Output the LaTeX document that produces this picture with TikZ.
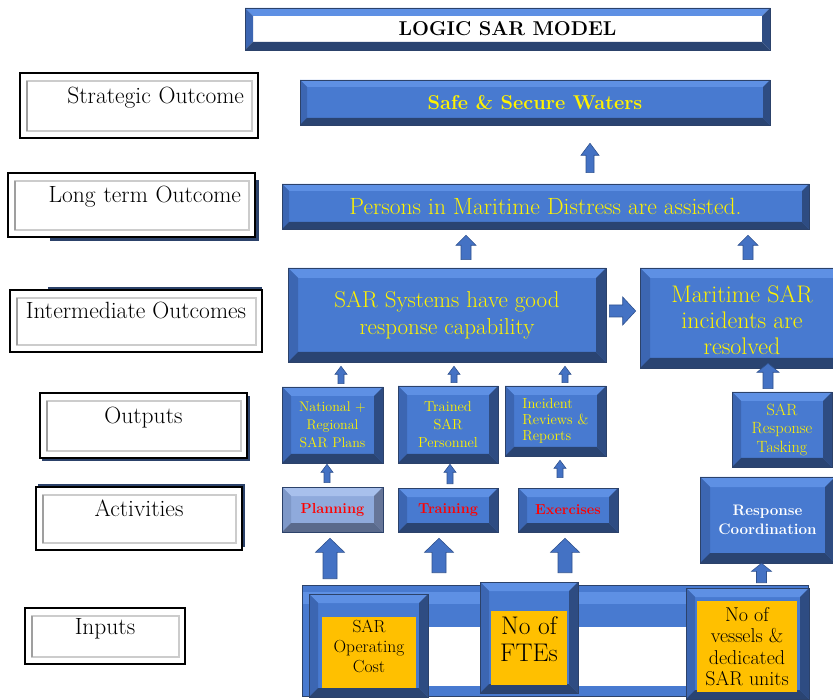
\documentclass[tikz,border=0pt]{standalone}
\usepackage{fontspec}
\usetikzlibrary{calc}

% colours of the bevelled boxes
\definecolor{bvface}{RGB}{72,122,208}
\definecolor{bvtop}{RGB}{94,144,228}
\definecolor{bvleft}{RGB}{60,102,178}
\definecolor{bvright}{RGB}{46,76,130}
\definecolor{bvbot}{RGB}{42,68,114}
\definecolor{bvline}{RGB}{44,66,106}
\definecolor{plface}{RGB}{143,170,220}
\definecolor{pltop}{RGB}{168,192,236}
\definecolor{plleft}{RGB}{126,152,200}
\definecolor{plright}{RGB}{102,117,152}
\definecolor{plbot}{RGB}{90,106,140}
\definecolor{inyellow}{RGB}{255,192,0}
\definecolor{arrfill}{RGB}{68,114,196}
\definecolor{arrline}{RGB}{47,82,143}

% four bevel faces of a box: width, top, left, bottom, right colour
\newcommand{\bevelfaces}[5]{%
  \fill[#2] (path picture bounding box.north west) -- (path picture bounding box.north east)
    -- ([shift={(-#1,-#1)}]path picture bounding box.north east) -- ([shift={(#1,-#1)}]path picture bounding box.north west) -- cycle;
  \fill[#3] (path picture bounding box.north west) -- ([shift={(#1,-#1)}]path picture bounding box.north west)
    -- ([shift={(#1,#1)}]path picture bounding box.south west) -- (path picture bounding box.south west) -- cycle;
  \fill[#4] (path picture bounding box.south west) -- ([shift={(#1,#1)}]path picture bounding box.south west)
    -- ([shift={(-#1,#1)}]path picture bounding box.south east) -- (path picture bounding box.south east) -- cycle;
  \fill[#5] (path picture bounding box.south east) -- ([shift={(-#1,#1)}]path picture bounding box.south east)
    -- ([shift={(-#1,-#1)}]path picture bounding box.north east) -- (path picture bounding box.north east) -- cycle;}
% same, open on the right (box running off the page)
\newcommand{\bevelopen}[1]{%
  \fill[bvtop] (path picture bounding box.north west) -- (path picture bounding box.north east)
    -- ([yshift=-#1]path picture bounding box.north east) -- ([shift={(#1,-#1)}]path picture bounding box.north west) -- cycle;
  \fill[bvleft] (path picture bounding box.north west) -- ([shift={(#1,-#1)}]path picture bounding box.north west)
    -- ([shift={(#1,#1)}]path picture bounding box.south west) -- (path picture bounding box.south west) -- cycle;
  \fill[bvbot] (path picture bounding box.south west) -- ([shift={(#1,#1)}]path picture bounding box.south west)
    -- ([yshift=#1]path picture bounding box.south east) -- (path picture bounding box.south east) -- cycle;}

% block arrows: base, tip, half shaft, half head, head length
\newcommand{\blkup}[5]{%
  \filldraw[blkarrow] let \p1=(#1), \p2=(#2) in
    (\x2-#3,\y1) -- (\x2-#3,\y2-#5) -- (\x2-#4,\y2-#5) -- (\x2,\y2)
    -- (\x2+#4,\y2-#5) -- (\x2+#3,\y2-#5) -- (\x2+#3,\y1) -- cycle;}
\newcommand{\blkright}[5]{%
  \filldraw[blkarrow] let \p1=(#1), \p2=(#2) in
    (\x1,\y2+#3) -- (\x2-#5,\y2+#3) -- (\x2-#5,\y2+#4) -- (\x2,\y2)
    -- (\x2-#5,\y2-#4) -- (\x2-#5,\y2-#3) -- (\x1,\y2-#3) -- cycle;}

\tikzset{
  bevel/.style={rectangle, inner sep=0pt, align=center, fill=bvface, draw=bvline, line width=0.6pt,
    path picture={\bevelfaces{#1}{bvtop}{bvleft}{bvbot}{bvright}}},
  bevelright/.style={rectangle, inner sep=0pt, align=center, fill=bvface, draw=bvline, line width=0.6pt,
    path picture={\bevelopen{#1}}},
  bevelpale/.style={rectangle, inner sep=0pt, align=center, fill=plface, draw=bvline, line width=0.6pt,
    path picture={\bevelfaces{#1}{pltop}{plleft}{plbot}{plright}}},
  acttext/.style={text=red, font=\bfseries\fontsize{14.5}{17}\selectfont},
  levelbox/.style={rectangle, draw=black, line width=1.6pt, fill=white, inner ysep=0pt,
    text height=16pt, text depth=20pt, font=\fontsize{23.5}{27}\selectfont,
    path picture={
      \draw[gray!40, line width=1.5pt] ([shift={(7pt,-8pt)}]path picture bounding box.north west) rectangle ([shift={(-6pt,7pt)}]path picture bounding box.south east);
      \draw[gray!75, line width=1.5pt] ([shift={(7pt,-8pt)}]path picture bounding box.north west) -- ([shift={(7pt,7pt)}]path picture bounding box.south west);}},
  inputbar/.style={rectangle, inner sep=0pt, fill=bvface, draw=bvline, line width=0.6pt,
    path picture={
      \fill[bvtop] ([yshift=-7pt]path picture bounding box.north west) rectangle ([yshift=-19pt]path picture bounding box.north east);
      \fill[white] ([shift={(7pt,-42pt)}]path picture bounding box.north west) rectangle ([shift={(-7pt,10pt)}]path picture bounding box.south east);}},
  yellowbox/.style={rectangle, fill=inyellow, inner sep=0pt, align=center, text=black},
  blkarrow/.style={fill=arrfill, draw=arrline, line width=0.6pt}
}

\begin{document}
\begin{tikzpicture}[x=1pt, y=-1pt]

% Blue shades behind some level names
\fill[bvline] (50,180) rectangle (259,241);
\fill[bvline] (48,287) rectangle (262,296);
\fill[bvline] (42,396) rectangle (250,461);
\fill[bvline] (38,484) rectangle (245,547);

% Level names
\node[levelbox, minimum width=238pt, minimum height=65pt, text width=210pt, align=right, inner xsep=14pt] (strat) at (139,105.5) {Strategic Outcome};
\node[levelbox, minimum width=247pt, minimum height=64pt, text width=219pt, align=right, inner xsep=14pt] (longt) at (131.5,205) {Long term Outcome};
\node[levelbox, minimum width=252pt, minimum height=62pt, inner xsep=2pt] (inter) at (136,321) {Intermediate Outcomes};
\node[levelbox, minimum width=207pt, minimum height=65pt] (outp) at (143.5,425.5) {Outputs};
\node[levelbox, minimum width=206pt, minimum height=63pt] (activ) at (139,518.5) {Activities};
\node[levelbox, minimum width=160pt, minimum height=56pt] (inp) at (105,636) {Inputs};

% Title
\node[bevel=8pt, fill=white, minimum width=525pt, minimum height=42pt, font=\bfseries\fontsize{20}{24}\selectfont] (title) at (507.5,29) {LOGIC SAR MODEL};

% Outcomes
\node[bevel=7pt, minimum width=470pt, minimum height=45pt, text=yellow, font=\bfseries\fontsize{20}{24}\selectfont] (safe) at (535,102.5) {Safe \& Secure Waters};
\node[bevel=7pt, minimum width=527pt, minimum height=45pt, text=yellow, font=\fontsize{23.5}{26}\selectfont] (persons) at (545.5,206.5) {Persons in Maritime Distress are assisted.};
\node[bevel=10pt, minimum width=318pt, minimum height=94pt, text=yellow, font=\fontsize{23}{27}\selectfont] (sys) at (447,315) {SAR Systems have good\\response capability};
\node[bevelright=10pt, minimum width=230pt, minimum height=100pt] (mar) at (755,318) {};
\node[text=yellow, align=center, inner sep=0pt, font=\fontsize{24}{26}\selectfont] (martxt) at (742,320) {Maritime SAR\\incidents are\\resolved};

% Outputs
\node[bevel=9pt, minimum width=101pt, minimum height=76pt, text=yellow, font=\fontsize{14}{18}\selectfont] (plans) at (332.5,425) {National +\\Regional\\SAR Plans};
\node[bevel=9pt, minimum width=100pt, minimum height=77pt, text=yellow, font=\fontsize{14.5}{18}\selectfont] (trained) at (448,424.5) {Trained\\SAR\\Personnel};
\node[bevel=9pt, minimum width=101pt, minimum height=70pt, text=yellow, align=left, font=\fontsize{14.5}{16}\selectfont] (reviews) at (555.5,421) {Incident\\Reviews \&\\Reports};
\node[bevel=9pt, minimum width=100pt, minimum height=75pt, text=yellow, font=\fontsize{16.3}{18.5}\selectfont] (tasking) at (782,429.5) {SAR\\Response\\Tasking};

% Activities
\node[bevelpale=9pt, minimum width=101pt, minimum height=45pt, acttext] (planning) at (332.5,509.5) {Planning};
\node[bevel=9pt, minimum width=100pt, minimum height=44pt, acttext] (training) at (448,510) {Training};
\node[bevel=9pt, minimum width=100pt, minimum height=44pt, acttext] (exercises) at (568,510) {Exercises};
\node[bevel=10pt, minimum width=135pt, minimum height=86pt, text=white, font=\bfseries\fontsize{15.2}{19}\selectfont] (coord) at (767.5,520) {Response\\Coordination};

% Inputs
\node[inputbar, minimum width=506pt, minimum height=111pt] (bar) at (555,640.5) {};
\node[bevel=9pt, minimum width=119pt, minimum height=103pt] (cost) at (368.5,645.5) {};
\node[yellowbox, minimum width=94pt, minimum height=71pt, font=\fontsize{17.5}{20}\selectfont] (costtxt) at (369,652.5) {SAR\\Operating\\Cost\rule[-12pt]{0pt}{12pt}};
\node[bevel=9pt, minimum width=98pt, minimum height=111pt] (fte) at (529,637.5) {};
\node[yellowbox, minimum width=76pt, minimum height=74pt, font=\fontsize{25.5}{27}\selectfont] (ftetxt) at (529,648) {No of\\FTEs\rule[-18pt]{0pt}{18pt}};
\node[bevel=9pt, minimum width=123pt, minimum height=111pt] (vessels) at (747.5,643.5) {};
\node[yellowbox, minimum width=100pt, minimum height=91pt, font=\fontsize{20}{21.5}\selectfont] (vesstxt) at (747,646.5) {No of\\vessels \&\\dedicated\\SAR units};

% Arrows between the levels
\blkup{$(persons.north)+(0,-11)$}{$(persons.north |- safe.south)+(44.5,18)$}{4pt}{9pt}{12pt}
\blkup{$(sys.north)+(0,-8)$}{$(sys.north |- persons.south)+(19,6)$}{5pt}{10pt}{10pt}
\blkup{$(mar.north)+(0,-8)$}{$(mar.north |- persons.south)+(-7,6)$}{5pt}{10pt}{10pt}
\blkright{$(sys.east)+(3,0)$}{$(mar.west)+(-4,-7)$}{6pt}{14pt}{13pt}
\blkup{$(plans.north)+(0,-3)$}{$(plans.north |- sys.south)+(8.5,4)$}{3pt}{6pt}{8pt}
\blkup{$(trained.north)+(0,-3)$}{$(trained.north |- sys.south)+(6,4)$}{3pt}{6pt}{8pt}
\blkup{$(reviews.north)+(0,-3)$}{$(reviews.north |- sys.south)+(9.5,4)$}{3pt}{6pt}{8pt}
\blkup{$(tasking.north)+(0,-3)$}{$(tasking.north |- mar.south)+(-14,-5)$}{5pt}{11pt}{9pt}
\blkup{$(planning.north)+(0,-4)$}{$(planning.north |- plans.south)+(-5.5,1)$}{3pt}{6pt}{8pt}
\blkup{$(training.north)+(0,-4)$}{$(training.north |- trained.south)+(2,1)$}{3pt}{6pt}{8pt}
\blkup{$(exercises.north)+(0,-10)$}{$(exercises.north |- reviews.south)+(-8,4)$}{3pt}{6pt}{8pt}
\blkup{$(bar.north)+(0,-6)$}{$(planning.south)+(-2.5,6)$}{7pt}{14.5pt}{14pt}
\blkup{$(bar.north)+(0,-12)$}{$(training.south)+(-9,6)$}{7pt}{14.5pt}{14pt}
\blkup{$(bar.north)+(0,-12)$}{$(exercises.south)+(-3,6)$}{7pt}{14.5pt}{14pt}
\blkup{$(bar.north)+(0,-2)$}{$(coord.south)+(-6,0)$}{5pt}{10pt}{8pt}

% page frame
\pgfresetboundingbox
\useasboundingbox (0,0) rectangle (833,700);
\end{tikzpicture}
\end{document}
